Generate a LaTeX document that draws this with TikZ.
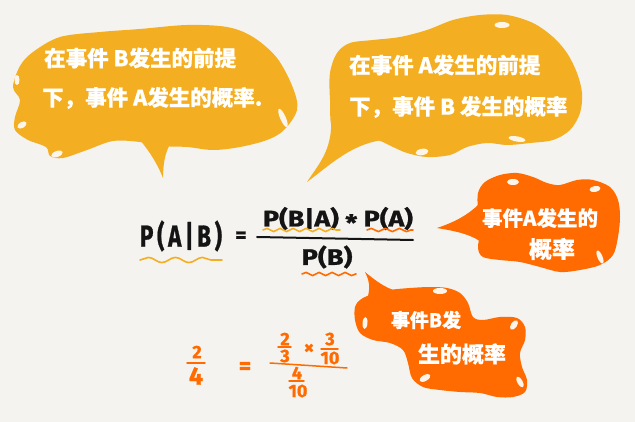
\documentclass[tikz,border=0pt]{standalone}
\usepackage{fontspec}
\usepackage{graphicx}
\newfontfamily\cjk{Noto Sans CJK SC}[FakeBold=0.6]
\newfontfamily\hand{Fira Sans}[FakeBold=1.0]
\usetikzlibrary{decorations.pathmorphing}
\definecolor{bg}{HTML}{F4F3EF}
\definecolor{yel}{HTML}{F4AE22}
\definecolor{org}{HTML}{FF6B00}
\definecolor{hl}{HTML}{FDF5EA}
\definecolor{ink}{HTML}{141414}
\begin{document}
\begin{tikzpicture}[x=1pt,y=-1pt,
  btext/.style={text=white, font=\cjk\fontsize{21.5}{21.5}\selectfont\bfseries, inner sep=0pt, anchor=west},
  stext/.style={text=white, font=\cjk\fontsize{20.5}{20.5}\selectfont\bfseries, inner sep=0pt},
  inktext/.style={text=ink, inner sep=0pt},
  otext/.style={text=org, inner sep=0pt, font=\hand\fontsize{18}{18}\selectfont\bfseries},
  wavy/.style={decorate, line width=1.6pt, line cap=round},
  obar/.style={draw=org, line width=1.5pt, line cap=round}]
\fill[bg] (0,0) rectangle (635,422);
\useasboundingbox (0,0) rectangle (635,422);

% ---------- bubble 1 (top left, yellow)
\fill[yel] plot[smooth cycle, tension=0.55] coordinates {(20,66) (33,52) (60,37) (100,32) (140,29) (187,25) (227,27) (253,37) (277,58) (293,88) (297,110) (284,130) (267,140) (240,147) (213,150) (187,147) (160,146) (140,142) (113,141) (87,150) (63,158) (50,156) (46,147) (28,140) (15,130) (15,117) (20,100) (13,87)};
\fill[yel] (140,140) .. controls (150,152) and (158,165) .. (163,178) .. controls (163,165) and (165,150) .. (172,142) -- cycle;
\fill[hl, rotate around={90:(17,80)}] (17,80) ellipse (5 and 2.5);
\fill[hl, rotate around={30:(22,125)}] (22,125) ellipse (5 and 3);
\fill[hl, rotate around={20:(57,154)}] (57,154) ellipse (6 and 3);
\fill[hl, rotate around={-66:(283,118)}] (283,118) ellipse (10 and 2.8);
\node[btext] (b1a) at (44,58) {在事件 B发生的前提};
\node[btext] (b1b) at (42,98) {下，事件 A发生的概率.};

% ---------- bubble 2 (top right, yellow)
\fill[yel] plot[smooth cycle, tension=0.55] coordinates {(330,100) (330,73) (337,53) (350,43) (373,40) (400,37) (427,30) (453,20) (480,15) (507,15) (533,23) (553,37) (567,53) (577,73) (582,93) (580,113) (570,130) (553,140) (530,143) (507,145) (487,143) (467,147) (450,155) (427,157) (407,153) (393,147) (377,140) (355,138) (333,130)};
\fill[yel] (331,118) .. controls (333,150) and (318,165) .. (307,182) .. controls (330,165) and (350,145) .. (382,140) -- cycle;
\fill[hl] (502,25) ellipse (7.5 and 3);
\fill[hl, rotate around={-10:(517,139)}] (517,139) ellipse (8.5 and 2.6);
\fill[hl, rotate around={10:(422,152)}] (422,152) ellipse (6.5 and 3.2);
\node[btext] (b2a) at (349,65) {在事件 A发生的前提};
\node[btext] (b2b) at (349,107) {下，事件 B 发生的概率};

% ---------- bubble 3 (right, orange)
\fill[org] plot[smooth cycle, tension=0.55] coordinates {(478,193) (485,182) (500,175) (517,173) (533,177) (547,183) (560,185) (577,180) (593,180) (610,187) (618,200) (620,217) (618,237) (613,255) (600,265) (580,270) (560,272) (540,267) (520,262) (500,260) (483,257) (478,248) (480,232) (478,210)};
\fill[org] (479,204) .. controls (468,215) and (455,222) .. (437,228) .. controls (455,231) and (470,234) .. (481,242) -- cycle;
\fill[hl] (513,182) ellipse (6 and 3);
\fill[hl, rotate around={10:(595,189)}] (595,189) ellipse (5.5 and 3);
\fill[hl, rotate around={-67:(600,257)}] (600,257) ellipse (7 and 2.5);
\node[stext] (b3a) at (540,218) {事件A发生的};
\node[stext, font=\cjk\fontsize{23}{23}\selectfont\bfseries] (b3b) at (552,249) {概率};

% ---------- bubble 4 (bottom, orange)
\fill[org] plot[smooth cycle, tension=0.55] coordinates {(355,307) (360,300) (370,295) (390,290) (410,288) (430,287) (447,288) (460,293) (468,303) (473,317) (483,320) (500,317) (517,318) (525,327) (525,340) (520,353) (522,367) (527,380) (525,392) (513,397) (497,397) (480,393) (460,392) (440,390) (423,387) (412,378) (408,363) (403,350) (390,343) (373,340) (360,333) (355,320)};
\fill[org] (367,299) .. controls (371,288) and (369,280) .. (365,272) .. controls (376,281) and (384,287) .. (396,291) -- cycle;
\fill[hl] (440,291) ellipse (7 and 3);
\fill[hl, rotate around={85:(365,323)}] (365,323) ellipse (6 and 2.5);
\fill[hl, rotate around={55:(514,325)}] (514,325) ellipse (5.5 and 3);
\fill[hl, rotate around={30:(425,378)}] (425,378) ellipse (6 and 3);
\fill[hl, rotate around={-60:(520,382)}] (520,382) ellipse (6 and 2.6);
\node[stext, font=\cjk\fontsize{19}{19}\selectfont\bfseries] (b4a) at (426,320) {事件B发};
\node[stext, font=\cjk\fontsize{22}{22}\selectfont\bfseries] (b4b) at (462,354) {生的概率};

% ---------- Bayes formula
\node[inktext] (pab) at (181,236) {\resizebox*{82pt}{31pt}{\hand\bfseries P\,(\,A\,|\,B\,)}};
\node[inktext, font=\hand\bfseries\fontsize{22}{22}\selectfont] (eq) at (241,237) {=};
\coordinate (barL) at (257,237);
\coordinate (barR) at (413,240);
\draw[ink, line width=2pt, line cap=round] (barL) -- (barR);
\node[inktext] (num) at (338,219) {\resizebox*{150pt}{24pt}{\hand\bfseries P(B|A) \raisebox{-0.2em}{*} P(A)}};
\node[inktext] (den) at (327,257) {\resizebox*{51pt}{23pt}{\hand\bfseries P(B)}};

\draw[yel, wavy, decoration={snake, amplitude=2.6pt, segment length=27pt}] (140,260) -- (222,260);
\draw[yel, wavy, decoration={snake, amplitude=1.6pt, segment length=13pt}] (263,230) -- (340,230);
\draw[org, wavy, decoration={snake, amplitude=1.6pt, segment length=14pt}] (367,230) -- (413,230);
\draw[org, wavy, decoration={snake, amplitude=1.6pt, segment length=13pt}] (302,274) -- (356,274);

% ---------- numeric example
\node[otext] (n24) at (197,352) {2};
\draw[obar] (187,363) -- (205,363);
\node[otext, font=\hand\bfseries\fontsize{25}{25}\selectfont] (d24) at (196,376) {4};
\node[otext, font=\hand\bfseries\fontsize{24}{24}\selectfont] (eq2) at (245,368) {=};
\draw[obar] (270,363) -- (347,368);
\node[otext] (n23) at (285,339) {2};
\draw[obar] (278,347) -- (291,347);
\node[otext] (d23) at (285,356) {3};
\node[otext, font=\hand\bfseries\fontsize{20}{20}\selectfont] (times) at (309,349) {×};
\node[otext] (n310) at (330,339) {3};
\draw[obar] (321,349) -- (338,349);
\node[otext] (d310) at (330,358) {10};
\node[otext] (n410) at (297,373) {4};
\draw[obar] (289,381) -- (304,381);
\node[otext] (d410) at (298,391) {10};
\end{tikzpicture}
\end{document}
